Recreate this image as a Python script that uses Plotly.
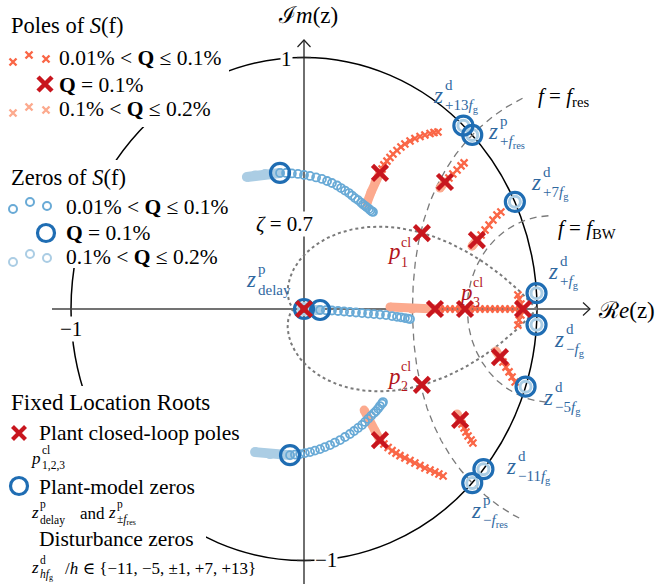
import numpy as np
import plotly.graph_objects as go

W, H = 658, 584
XR = (-1.3047, 1.5193)
YR = (-1.0934, 1.2286)

SERIF = "Liberation Serif, DejaVu Serif, serif"

RED_DARK = "#c8161e"
RED_MID = "#fa6646"
RED_LIGHT = "#fcaa8e"
BLUE_DARK = "#1f6db3"
BLUE_MID = "#69aad6"
BLUE_LIGHT = "#abcde4"
BLUE_TEXT = "#30689f"
RED_TEXT = "#b3151c"
GUIDE = "#7a7a7a"

# ---------------- fixed-location roots ----------------
plant_cl_re = [0.0, 0.506, 0.506, 0.691]
plant_cl_im = [0.0, 0.302, -0.302, 0.0]
plant_zero_re = [0.0, 0.722, 0.722]
plant_zero_im = [0.0, 0.692, -0.692]
dist_zero_re = [0.684, 0.905, 0.998, 0.998, 0.951, 0.770]
dist_zero_im = [0.729, 0.426, 0.063, -0.063, -0.309, -0.637]

# ---------------- roots of S(f) at Q = 0.1 % ----------------
pole_q_re = [0.326, 0.326, 0.605, 0.742, 0.562, 0.940, 0.841, 0.670]
pole_q_im = [0.541, -0.521, 0.505, 0.274, 0.0, 0.0, -0.191, -0.441]
zero_q_re = [-0.103, -0.060, 0.069]
zero_q_im = [0.541, -0.581, -0.004]

# ---------------- pole branches, 0.01 % < Q <= 0.1 % ----------------
pa_re = [0.326, 0.335, 0.343, 0.356, 0.369, 0.382, 0.399, 0.416, 0.433, 0.455, 0.476, 0.498, 0.519, 0.541, 0.558, 0.575]
pa_im = [0.541, 0.557, 0.573, 0.588, 0.602, 0.616, 0.630, 0.644, 0.656, 0.668, 0.678, 0.686, 0.692, 0.698, 0.702, 0.704]
pb_re = [0.326, 0.343, 0.361, 0.378, 0.395, 0.412, 0.433, 0.455, 0.476, 0.498, 0.519, 0.541, 0.562, 0.579, 0.597]
pb_im = [-0.521, -0.537, -0.551, -0.563, -0.573, -0.583, -0.592, -0.602, -0.612, -0.622, -0.632, -0.640, -0.648, -0.656, -0.664]
pc_re = [0.605, 0.622, 0.639, 0.657, 0.674, 0.687]
pc_im = [0.505, 0.521, 0.537, 0.553, 0.569, 0.581]
pd_re = [0.742, 0.760, 0.777, 0.794, 0.811, 0.828, 0.845]
pd_im = [0.274, 0.294, 0.314, 0.334, 0.354, 0.374, 0.386]
pe_re = [0.562, 0.584, 0.605, 0.627, 0.648, 0.670, 0.691, 0.712, 0.734, 0.755, 0.777, 0.798, 0.820, 0.841, 0.863, 0.884, 0.906, 0.927]
pe_im = [0.0] * 18
pf_re = [0.940, 0.931, 0.923, 0.918, 0.931, 0.923, 0.918]
pf_im = [0.0, 0.020, 0.040, 0.056, -0.024, -0.044, -0.064]
pg_re = [0.841, 0.854, 0.867, 0.880, 0.893, 0.906]
pg_im = [-0.191, -0.211, -0.231, -0.250, -0.270, -0.290]
ph_re = [0.670, 0.678, 0.687, 0.695, 0.704, 0.717, 0.725]
ph_im = [-0.441, -0.457, -0.473, -0.489, -0.505, -0.521, -0.533]

# ---------------- pole branches, 0.1 % < Q <= 0.2 % ----------------
la_re = [0.326, 0.305, 0.288, 0.270]
la_im = [0.541, 0.505, 0.465, 0.421]
lb_re = [0.326, 0.305, 0.279, 0.258]
lb_im = [-0.521, -0.485, -0.441, -0.402]
le_re = [0.562, 0.464, 0.369]
le_im = [0.0, 0.0, 0.008]
lc_re = [0.605, 0.584]
lc_im = [0.505, 0.481]
ld_re = [0.742, 0.721]
ld_im = [0.274, 0.250]
lg_re = [0.841, 0.824]
lg_im = [-0.191, -0.167]
lh_re = [0.670, 0.657]
lh_im = [-0.441, -0.417]

# ---------------- zero branches, 0.01 % < Q <= 0.1 % ----------------
zu_re = [-0.103, -0.077, -0.052, -0.026, 0.000, 0.026, 0.052, 0.077, 0.099, 0.120, 0.142, 0.159, 0.176,
         0.193, 0.206, 0.219, 0.232, 0.245, 0.253, 0.262, 0.270, 0.279, 0.285, 0.292, 0.296]
zu_im = [0.541, 0.541, 0.539, 0.537, 0.533, 0.529, 0.523, 0.517, 0.509, 0.501, 0.491, 0.481, 0.471,
         0.461, 0.451, 0.441, 0.433, 0.423, 0.416, 0.410, 0.404, 0.398, 0.392, 0.388, 0.386]
zl_re = [-0.060, -0.039, -0.017, 0.004, 0.026, 0.047, 0.069, 0.090, 0.112, 0.133, 0.155, 0.176, 0.197,
         0.215, 0.232, 0.249, 0.262, 0.275, 0.288, 0.300, 0.309, 0.318, 0.326, 0.335, 0.339]
zl_im = [-0.581, -0.579, -0.577, -0.573, -0.569, -0.563, -0.557, -0.549, -0.541, -0.531, -0.521, -0.509, -0.497,
         -0.485, -0.473, -0.461, -0.449, -0.437, -0.425, -0.414, -0.406, -0.396, -0.386, -0.376, -0.370]
zr_re = [0.069, 0.094, 0.120, 0.146, 0.172, 0.197, 0.223, 0.249, 0.275, 0.300, 0.326, 0.352, 0.378,
         0.399, 0.416, 0.433, 0.446, 0.455]
zr_im = [-0.004, -0.005, -0.006, -0.008, -0.010, -0.012, -0.014, -0.016, -0.018, -0.020, -0.022, -0.024, -0.028,
         -0.031, -0.033, -0.036, -0.038, -0.040]

# ---------------- zero branches, 0.1 % < Q <= 0.2 % ----------------
lzu_re = [-0.245, -0.210, -0.167, -0.103]
lzu_im = [0.525, 0.531, 0.537, 0.541]
lzl_re = [-0.210, -0.146, -0.060]
lzl_im = [-0.569, -0.577, -0.581]
lzr_re = [0.047, 0.069]
lzr_im = [-0.004, -0.004]

# ---------------- guide curves ----------------
zeta_guide = 0.7
theta_res_deg = 43.8
theta_bw_deg = 20.4


def DX(px):
    return XR[0] + px / W * (XR[1] - XR[0])


def DY(py):
    return YR[1] - py / H * (YR[1] - YR[0])


def PP(px, py):
    return px / W, 1 - py / H


def wn_contour(theta_deg, zeta_min=-0.3):
    th = np.deg2rad(theta_deg)
    z = np.linspace(zeta_min, 1.0, 240)
    up = np.exp(th * (-z + 1j * np.sqrt(1 - z ** 2)))
    return np.concatenate([up, np.conj(up[::-1])])


def zeta_contour(zeta):
    wd = np.sqrt(1 - zeta ** 2)
    t = np.linspace(0, np.pi / wd, 400)
    s = np.exp(t * (-zeta + 1j * wd))
    return np.concatenate([s, np.conj(s)[::-1]])


fig = go.Figure()

for c, dash, w in [(wn_contour(theta_res_deg), "7px,5px", 1.3),
                   (wn_contour(theta_bw_deg), "7px,5px", 1.3),
                   (zeta_contour(zeta_guide), "dot", 2.0)]:
    fig.add_trace(go.Scatter(x=c.real, y=c.imag, mode="lines",
                             line=dict(color=GUIDE, width=w, dash=dash), hoverinfo="skip"))


def band(xs, ys, color, width):
    fig.add_trace(go.Scatter(x=xs, y=ys, mode="lines+markers",
                             line=dict(color=color, width=width),
                             marker=dict(size=width, color=color, line=dict(width=0)),
                             hoverinfo="skip"))


def xmark(xs, ys, color, size, lw):
    fig.add_trace(go.Scatter(x=xs, y=ys, mode="markers",
                             marker=dict(symbol="x-thin", size=size, color=color,
                                         line=dict(color=color, width=lw)),
                             hoverinfo="skip"))


def omark(xs, ys, color, size, lw):
    fig.add_trace(go.Scatter(x=xs, y=ys, mode="markers",
                             marker=dict(symbol="circle-open", size=size, color=color,
                                         line=dict(color=color, width=lw)),
                             hoverinfo="skip"))


# light branches (0.1 % < Q <= 0.2 %)
for xs, ys in [(la_re, la_im), (lb_re, lb_im), (le_re, le_im), (lc_re, lc_im),
               (ld_re, ld_im), (lg_re, lg_im), (lh_re, lh_im)]:
    band(xs, ys, RED_LIGHT, 9)
for xs, ys in [(lzu_re, lzu_im), (lzl_re, lzl_im), (lzr_re, lzr_im)]:
    band(xs, ys, BLUE_LIGHT, 10)

# medium branches (0.01 % < Q <= 0.1 %)
for xs, ys in [(pa_re, pa_im), (pb_re, pb_im), (pc_re, pc_im), (pd_re, pd_im),
               (pe_re, pe_im), (pf_re, pf_im), (pg_re, pg_im), (ph_re, ph_im)]:
    xmark(xs, ys, RED_MID, 7, 2.2)
for xs, ys in [(zu_re, zu_im), (zl_re, zl_im), (zr_re, zr_im)]:
    omark(xs, ys, BLUE_MID, 8, 1.8)

# fixed zeros: every Q maps onto the same point
fz_re = plant_zero_re + dist_zero_re
fz_im = plant_zero_im + dist_zero_im
omark(fz_re, fz_im, BLUE_LIGHT, 11, 3)
omark(fz_re + zero_q_re, fz_im + zero_q_im, BLUE_DARK, 19, 3.2)
xmark(plant_cl_re + pole_q_re, plant_cl_im + pole_q_im, RED_DARK, 15, 4.5)


# ---------------- key glyphs (pixel placed) ----------------
def kx(pxs, pys, color, size, lw):
    xmark([DX(p) for p in pxs], [DY(p) for p in pys], color, size, lw)


def ko(pxs, pys, color, size, lw):
    omark([DX(p) for p in pxs], [DY(p) for p in pys], color, size, lw)


kx([13, 29, 46], [62, 55, 59], RED_MID, 7, 2.4)
kx([45], [84], RED_DARK, 14, 4.5)
kx([13, 29, 46], [113, 107, 110], RED_LIGHT, 7, 2.4)
ko([13, 30, 47], [209, 202, 206], BLUE_MID, 8, 2)
ko([46], [233], BLUE_DARK, 17, 3.2)
ko([13, 30, 47], [262, 254, 258], BLUE_LIGHT, 8, 2)
kx([19], [433], RED_DARK, 13, 4.2)
ko([19], [486], BLUE_DARK, 17, 3.2)

# axis arrow heads
for xs, ys in [([DX(297.5), 0, DX(310.5)], [DY(47), DY(40), DY(47)]),
               ([DX(583), DX(590), DX(583)], [DY(302.5), 0, DY(315.5)])]:
    fig.add_trace(go.Scatter(x=xs, y=ys, mode="lines", line=dict(color="#222", width=1.2),
                             hoverinfo="skip"))

# ---------------- shapes ----------------
shapes = [
    dict(type="circle", xref="x", yref="y", x0=-1, x1=1, y0=-1, y1=1,
         line=dict(color="black", width=1.5), layer="below"),
    dict(type="line", xref="x", yref="y", x0=DX(52), x1=DX(590), y0=0, y1=0,
         line=dict(color="#444", width=1.3), layer="below"),
    dict(type="line", xref="x", yref="y", x0=0, x1=0, y0=DY(584), y1=DY(40),
         line=dict(color="#222", width=1.3), layer="below"),
    dict(type="line", xref="x", yref="y", x0=-0.03, x1=0.03, y0=1, y1=1,
         line=dict(color="#222", width=1.3), layer="below"),
    dict(type="line", xref="x", yref="y", x0=-0.03, x1=0.03, y0=-1, y1=-1,
         line=dict(color="#222", width=1.3), layer="below"),
]
# white panels behind the key blocks
for x0, y0, x1, y1 in [(0, 0, 229, 127), (0, 160, 140, 268), (0, 386, 206, 552)]:
    shapes.append(dict(type="rect", xref="x", yref="y",
                       x0=DX(x0), x1=DX(x1), y0=DY(y1), y1=DY(y0),
                       fillcolor="white", line=dict(width=0), layer="below"))

# ---------------- text ----------------
ann = []


def txt(px, py, s, size=20, color="black", anchor="left", bg=None):
    x, y = PP(px, py)
    d = dict(x=x, y=y, xref="paper", yref="paper", text=s, showarrow=False,
             xanchor=anchor, yanchor="middle", borderpad=0,
             font=dict(family=SERIF, size=size, color=color))
    if bg:
        d["bgcolor"] = bg
    ann.append(d)


def stacked(px, py, base, sup, sub, color="black", size=23, bw=12, ssize=15, dsup=10, dsub=11):
    txt(px, py, f"<i>{base}</i>", size, color)
    txt(px + bw, py - dsup, sup, ssize, color)
    txt(px + bw, py + dsub, sub, ssize, color)


B = "<b>Q</b>"
txt(10, 25, "Poles of <i>S</i>(f)", 22.5)
txt(58, 58, f"0.01% &lt; {B} ≤ 0.1%", 21.5)
txt(58, 85, f"{B} = 0.1%", 21.5)
txt(58, 109, f"0.1% &lt; {B} ≤ 0.2%", 21.5)
txt(10, 177, "Zeros of <i>S</i>(f)", 22.5)
txt(65, 207, f"0.01% &lt; {B} ≤ 0.1%", 21.5)
txt(65, 233, f"{B} = 0.1%", 21.5)
txt(65, 257, f"0.1% &lt; {B} ≤ 0.2%", 21.5)
txt(10, 402, "Fixed Location Roots", 23)
txt(38, 433, "Plant closed-loop poles", 21.5)
stacked(30, 458, "p", "cl", "1,2,3", size=17, bw=11, ssize=11.5, dsup=8, dsub=7)
txt(38, 487, "Plant-model zeros", 21.5)
stacked(30, 512, "z", "p", "delay", size=17, bw=9, ssize=11.5, dsup=8, dsub=8)
txt(79, 513, "and", 17)
stacked(107, 512, "z", "p", "±<i>f</i><sub>res</sub>", size=17, bw=9, ssize=11.5, dsup=8, dsub=8)
txt(38, 539, "Disturbance zeros", 21.5)
stacked(30, 567, "z", "d", "<i>hf</i><sub>g</sub>", size=17, bw=9, ssize=11.5, dsup=7, dsub=8)
txt(64, 568, "/<i>h</i> ∈ {−11, −5, ±1, +7, +13}", 17)

txt(308, 15, "ℐ<i>m</i>(z)", 23, anchor="center")
txt(597, 310, "ℛ<i>e</i>(z)", 23)
txt(293, 59, "1", 21, anchor="right", bg="white")
txt(71, 329, "−1", 21, anchor="center", bg="white")
txt(326, 560, "−1", 21, anchor="center", bg="white")
txt(255, 224, "<i>ζ</i> = 0.7", 21, bg="white")
txt(537, 97, "<i>f</i> = <i>f</i><sub>res</sub>", 21)
txt(557, 229, "<i>f</i> = <i>f</i><sub>BW</sub>", 21)

stacked(432, 95, "z", "d", "+13<i>f</i><sub>g</sub>", BLUE_TEXT)
stacked(487, 131, "z", "p", "+<i>f</i><sub>res</sub>", BLUE_TEXT)
stacked(530, 182, "z", "d", "+7<i>f</i><sub>g</sub>", BLUE_TEXT)
stacked(547, 271, "z", "d", "+<i>f</i><sub>g</sub>", BLUE_TEXT)
stacked(553, 339, "z", "d", "−<i>f</i><sub>g</sub>", BLUE_TEXT)
stacked(542, 397, "z", "d", "−5<i>f</i><sub>g</sub>", BLUE_TEXT)
stacked(505, 466, "z", "d", "−11<i>f</i><sub>g</sub>", BLUE_TEXT)
stacked(470, 510, "z", "p", "−<i>f</i><sub>res</sub>", BLUE_TEXT)
stacked(245, 279, "z", "p", "delay", BLUE_TEXT)
stacked(386, 252, "p", "cl", "1", RED_TEXT, ssize=14, bw=14, dsup=10, dsub=10)
stacked(386, 376, "p", "cl", "2", RED_TEXT, ssize=14, bw=14, dsup=10, dsub=10)
stacked(458, 292, "p", "cl", "3", RED_TEXT, ssize=14, bw=14, dsup=10, dsub=10)

fig.update_layout(
    width=W, height=H, margin=dict(l=0, r=0, t=0, b=0),
    paper_bgcolor="white", plot_bgcolor="white", showlegend=False,
    xaxis=dict(range=list(XR), visible=False, fixedrange=True),
    yaxis=dict(range=list(YR), visible=False, fixedrange=True),
    shapes=shapes, annotations=ann,
)
fig.write_html("out.html")
